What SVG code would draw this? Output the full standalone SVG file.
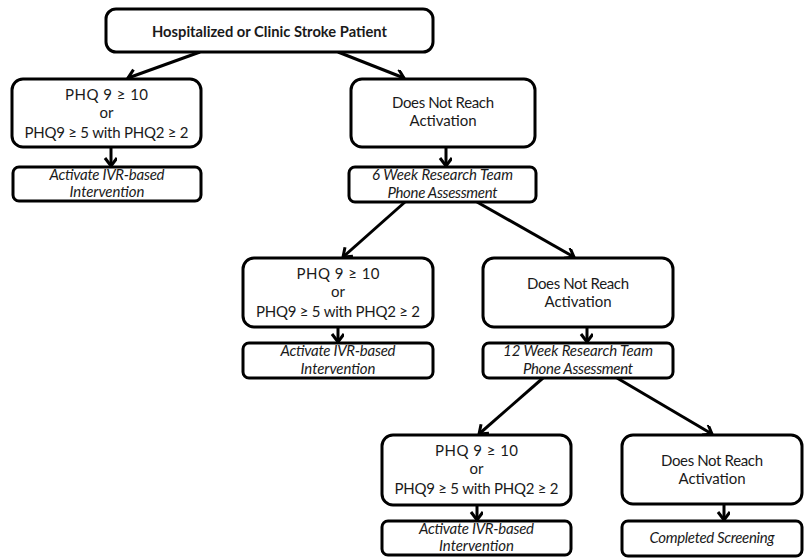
<svg xmlns="http://www.w3.org/2000/svg" width="804" height="558" viewBox="0 0 804 558">
<defs>
<style>
.box{fill:#fff;stroke:#000;stroke-width:3}
.t{font-family:Lato,"Liberation Sans",sans-serif;font-size:15px;fill:#1a1a1a;text-anchor:middle}
.b{font-weight:bold}
.i{font-style:italic}
.c line{stroke:#000;stroke-width:3;marker-end:url(#arr)}
</style>
<marker id="arr" markerUnits="userSpaceOnUse" markerWidth="16" markerHeight="16" refX="10" refY="6" orient="auto">
<path d="M2,0 L10,6 L2,12" fill="none" stroke="#000" stroke-width="3"/>
</marker>
</defs>
<rect width="804" height="558" fill="#fff"/>
<g class="c" id="connectors">
<line x1="200" y1="52" x2="128" y2="78"/>
<line x1="338" y1="52" x2="404" y2="78"/>
<line x1="111" y1="147" x2="111" y2="166"/>
<line x1="446" y1="147" x2="446" y2="166"/>
<line x1="405" y1="202" x2="343" y2="257"/>
<line x1="477" y1="202" x2="574" y2="257"/>
<line x1="338" y1="327" x2="338" y2="342"/>
<line x1="587" y1="327" x2="587" y2="342"/>
<line x1="543" y1="378" x2="479" y2="434"/>
<line x1="617" y1="378" x2="712" y2="434"/>
<line x1="477" y1="505" x2="477" y2="520"/>
<line x1="724" y1="505" x2="724" y2="520"/>
</g>
<g id="start">
<rect class="box" x="106" y="9" width="327" height="43" rx="10"/>
<text class="t b" x="269.5" y="37" textLength="235" lengthAdjust="spacingAndGlyphs">Hospitalized or Clinic Stroke Patient</text>
</g>
<g id="phq1">
<rect class="box" x="12" y="79" width="189" height="68" rx="11"/>
<text class="t" x="106.5" y="100" textLength="83">PHQ 9 ≥ 10</text>
<text class="t" x="106.5" y="118">or</text>
<text class="t" x="106.5" y="138" textLength="164">PHQ9 ≥ 5 with PHQ2 ≥ 2</text>
</g>
<g id="ivr1">
<rect class="box" x="13" y="167" width="188" height="34" rx="6"/>
<text class="t i" x="107" y="180" textLength="115">Activate IVR-based</text>
<text class="t i" x="107" y="197" textLength="75">Intervention</text>
</g>
<g id="dnr1">
<rect class="box" x="351" y="79" width="184" height="68" rx="11"/>
<text class="t" x="443" y="108" textLength="102">Does Not Reach</text>
<text class="t" x="443" y="126" textLength="67">Activation</text>
</g>
<g id="week6">
<rect class="box" x="349" y="167" width="187" height="35" rx="6"/>
<text class="t i" x="442.5" y="180" textLength="141">6 Week Research Team</text>
<text class="t i" x="442.5" y="198" textLength="110">Phone Assessment</text>
</g>
<g id="phq2">
<rect class="box" x="243" y="258" width="190" height="69" rx="11"/>
<text class="t" x="338" y="279" textLength="83">PHQ 9 ≥ 10</text>
<text class="t" x="338" y="297">or</text>
<text class="t" x="338" y="317" textLength="164">PHQ9 ≥ 5 with PHQ2 ≥ 2</text>
</g>
<g id="ivr2">
<rect class="box" x="243" y="343" width="190" height="35" rx="6"/>
<text class="t i" x="338" y="356" textLength="115">Activate IVR-based</text>
<text class="t i" x="338" y="374" textLength="75">Intervention</text>
</g>
<g id="dnr2">
<rect class="box" x="483" y="258" width="190" height="69" rx="11"/>
<text class="t" x="578" y="289" textLength="102">Does Not Reach</text>
<text class="t" x="578" y="307" textLength="67">Activation</text>
</g>
<g id="week12">
<rect class="box" x="483" y="343" width="190" height="35" rx="6"/>
<text class="t i" x="578" y="356" textLength="150">12 Week Research Team</text>
<text class="t i" x="578" y="374" textLength="110">Phone Assessment</text>
</g>
<g id="phq3">
<rect class="box" x="382" y="435" width="189" height="70" rx="11"/>
<text class="t" x="476.5" y="456" textLength="83">PHQ 9 ≥ 10</text>
<text class="t" x="476.5" y="474">or</text>
<text class="t" x="476.5" y="494" textLength="164">PHQ9 ≥ 5 with PHQ2 ≥ 2</text>
</g>
<g id="ivr3">
<rect class="box" x="382" y="521" width="189" height="34" rx="6"/>
<text class="t i" x="476.5" y="534" textLength="115">Activate IVR-based</text>
<text class="t i" x="476.5" y="551" textLength="75">Intervention</text>
</g>
<g id="dnr3">
<rect class="box" x="622" y="435" width="180" height="69" rx="11"/>
<text class="t" x="712" y="466" textLength="102">Does Not Reach</text>
<text class="t" x="712" y="484" textLength="67">Activation</text>
</g>
<g id="done">
<rect class="box" x="622" y="521" width="180" height="35" rx="6"/>
<text class="t i" x="712" y="543" textLength="125">Completed Screening</text>
</g>
</svg>
